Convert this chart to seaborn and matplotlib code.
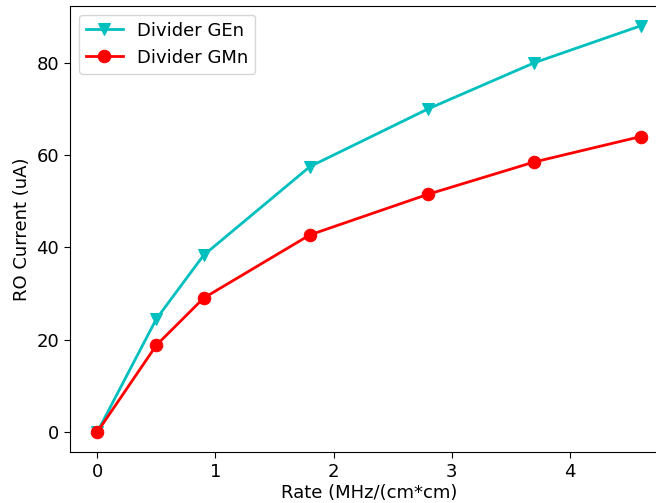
import numpy as np
import pandas as pd
import matplotlib
matplotlib.use("Agg")
import matplotlib.pyplot as plt
import seaborn as sns

rate = [0, 0.5, 0.9, 1.8, 2.8, 3.7, 4.6]
gen_current = [0, 24.5, 38.3, 57.5, 70.0, 80.0, 88.0]
gmn_current = [0, 18.8, 29.0, 42.7, 51.5, 58.5, 64.0]

plt.rcParams['font.size'] = 13
plt.rcParams['xtick.major.size'] = 4.5
plt.rcParams['ytick.major.size'] = 4.5

fig = plt.figure(figsize=(6.56, 5.03), dpi=100)
# the reference is cropped on the right and top, so the axes run past the figure edge
ax = fig.add_axes([0.107, 0.101, 0.911, 0.888])

sns.lineplot(x=rate, y=gen_current, ax=ax, color='c', marker='v', markersize=8,
             linewidth=2, markeredgecolor='c', label='Divider GEn')
sns.lineplot(x=rate, y=gmn_current, ax=ax, color='r', marker='o', markersize=9,
             linewidth=2, markeredgecolor='r', label='Divider GMn')

ax.set_xlabel("Rate (MHz/(cm*cm)", labelpad=2)
ax.set_ylabel("RO Current (uA)")
ax.legend(loc='upper left')

fig.savefig("out.png", dpi=100)
